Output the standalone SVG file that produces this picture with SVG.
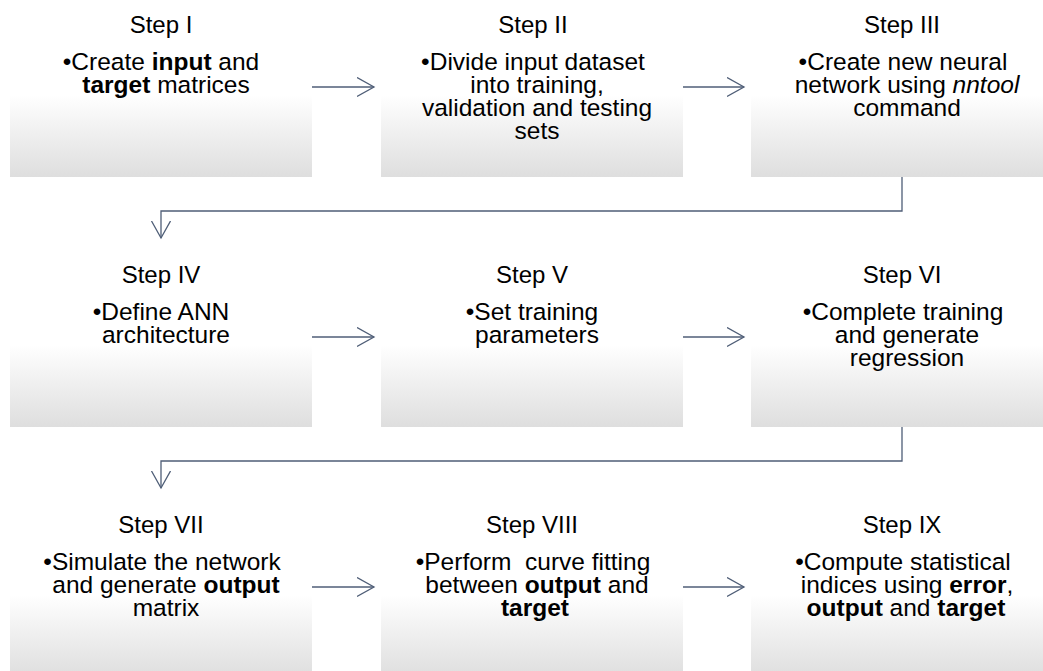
<svg xmlns="http://www.w3.org/2000/svg" width="1043" height="671" viewBox="0 0 1043 671">
<defs>
<linearGradient id="boxfill" x1="0" y1="0" x2="0" y2="1">
<stop offset="0" stop-color="#ffffff"/>
<stop offset="0.4" stop-color="#ffffff"/>
<stop offset="1" stop-color="#dedede"/>
</linearGradient>
<marker id="arr" markerUnits="userSpaceOnUse" markerWidth="20" markerHeight="22" refX="17" refY="10" orient="auto" viewBox="0 0 20 22">
<path d="M0,0.5 L17,10 L0,19.5" fill="none" stroke="#4f5e77" stroke-width="1.3"/>
</marker>
</defs>
<style>
.box{fill:url(#boxfill);stroke:none}
.title{font-family:"Liberation Sans",Arial,sans-serif;font-size:24px;fill:#000;text-anchor:middle}
.body{font-family:"Liberation Sans",Arial,sans-serif;font-size:24.5px;fill:#000;text-anchor:middle}
.b{font-weight:bold}
.i{font-style:italic}
.conn{fill:none;stroke:#4f5e77;stroke-width:1.3}
</style>
<rect width="1043" height="671" fill="#ffffff"/>

<g id="step1">
<rect class="box" x="10" y="40" width="302" height="137"/>
<text class="title" x="161" y="33">Step I</text>
<text class="body"><tspan x="161" y="70">•Create <tspan class="b">input</tspan> and</tspan><tspan x="166" y="93"><tspan class="b">target</tspan> matrices</tspan></text>
</g>

<g id="step2">
<rect class="box" x="381" y="40" width="302" height="137"/>
<text class="title" x="533" y="33">Step II</text>
<text class="body"><tspan x="533" y="70">•Divide input dataset</tspan><tspan x="537" y="93">into training,</tspan><tspan x="537" y="116">validation and testing</tspan><tspan x="537" y="139">sets</tspan></text>
</g>

<g id="step3">
<rect class="box" x="751" y="40" width="302" height="137"/>
<text class="title" x="902" y="33">Step III</text>
<text class="body"><tspan x="903" y="70">•Create new neural</tspan><tspan x="907" y="93">network using <tspan class="i">nntool</tspan></tspan><tspan x="907" y="116">command</tspan></text>
</g>

<g id="step4">
<rect class="box" x="10" y="290" width="302" height="137"/>
<text class="title" x="161" y="283">Step IV</text>
<text class="body"><tspan x="161" y="320">•Define ANN</tspan><tspan x="166" y="343">architecture</tspan></text>
</g>

<g id="step5">
<rect class="box" x="381" y="290" width="302" height="137"/>
<text class="title" x="532" y="283">Step V</text>
<text class="body"><tspan x="532" y="320">•Set training</tspan><tspan x="537" y="343">parameters</tspan></text>
</g>

<g id="step6">
<rect class="box" x="751" y="290" width="302" height="137"/>
<text class="title" x="902" y="283">Step VI</text>
<text class="body"><tspan x="903" y="320">•Complete training</tspan><tspan x="907" y="343">and generate</tspan><tspan x="907" y="366">regression</tspan></text>
</g>

<g id="step7">
<rect class="box" x="10" y="540" width="302" height="137"/>
<text class="title" x="161" y="533">Step VII</text>
<text class="body"><tspan x="162" y="570">•Simulate the network</tspan><tspan x="166" y="593">and generate <tspan class="b">output</tspan></tspan><tspan x="166" y="616">matrix</tspan></text>
</g>

<g id="step8">
<rect class="box" x="381" y="540" width="302" height="137"/>
<text class="title" x="532" y="533">Step VIII</text>
<text class="body" xml:space="preserve"><tspan x="533" y="570">•Perform  curve fitting</tspan><tspan x="537" y="593">between <tspan class="b">output</tspan> and</tspan><tspan x="535" y="616"><tspan class="b">target</tspan></tspan></text>
</g>

<g id="step9">
<rect class="box" x="751" y="540" width="302" height="137"/>
<text class="title" x="902" y="533">Step IX</text>
<text class="body"><tspan x="903" y="570">•Compute statistical</tspan><tspan x="907" y="593">indices using <tspan class="b">error</tspan>,</tspan><tspan x="906" y="616"><tspan class="b">output</tspan> and <tspan class="b">target</tspan></tspan></text>
</g>

<g id="connectors">
<line class="conn" x1="312" y1="87" x2="374" y2="87" marker-end="url(#arr)"/>
<line class="conn" x1="683" y1="87" x2="744" y2="87" marker-end="url(#arr)"/>
<polyline class="conn" points="902,177 902,211 161,211 161,238" marker-end="url(#arr)"/>
<line class="conn" x1="312" y1="337" x2="374" y2="337" marker-end="url(#arr)"/>
<line class="conn" x1="683" y1="337" x2="744" y2="337" marker-end="url(#arr)"/>
<polyline class="conn" points="902,427 902,461 161,461 161,488" marker-end="url(#arr)"/>
<line class="conn" x1="312" y1="587" x2="374" y2="587" marker-end="url(#arr)"/>
<line class="conn" x1="683" y1="587" x2="744" y2="587" marker-end="url(#arr)"/>
</g>
</svg>
